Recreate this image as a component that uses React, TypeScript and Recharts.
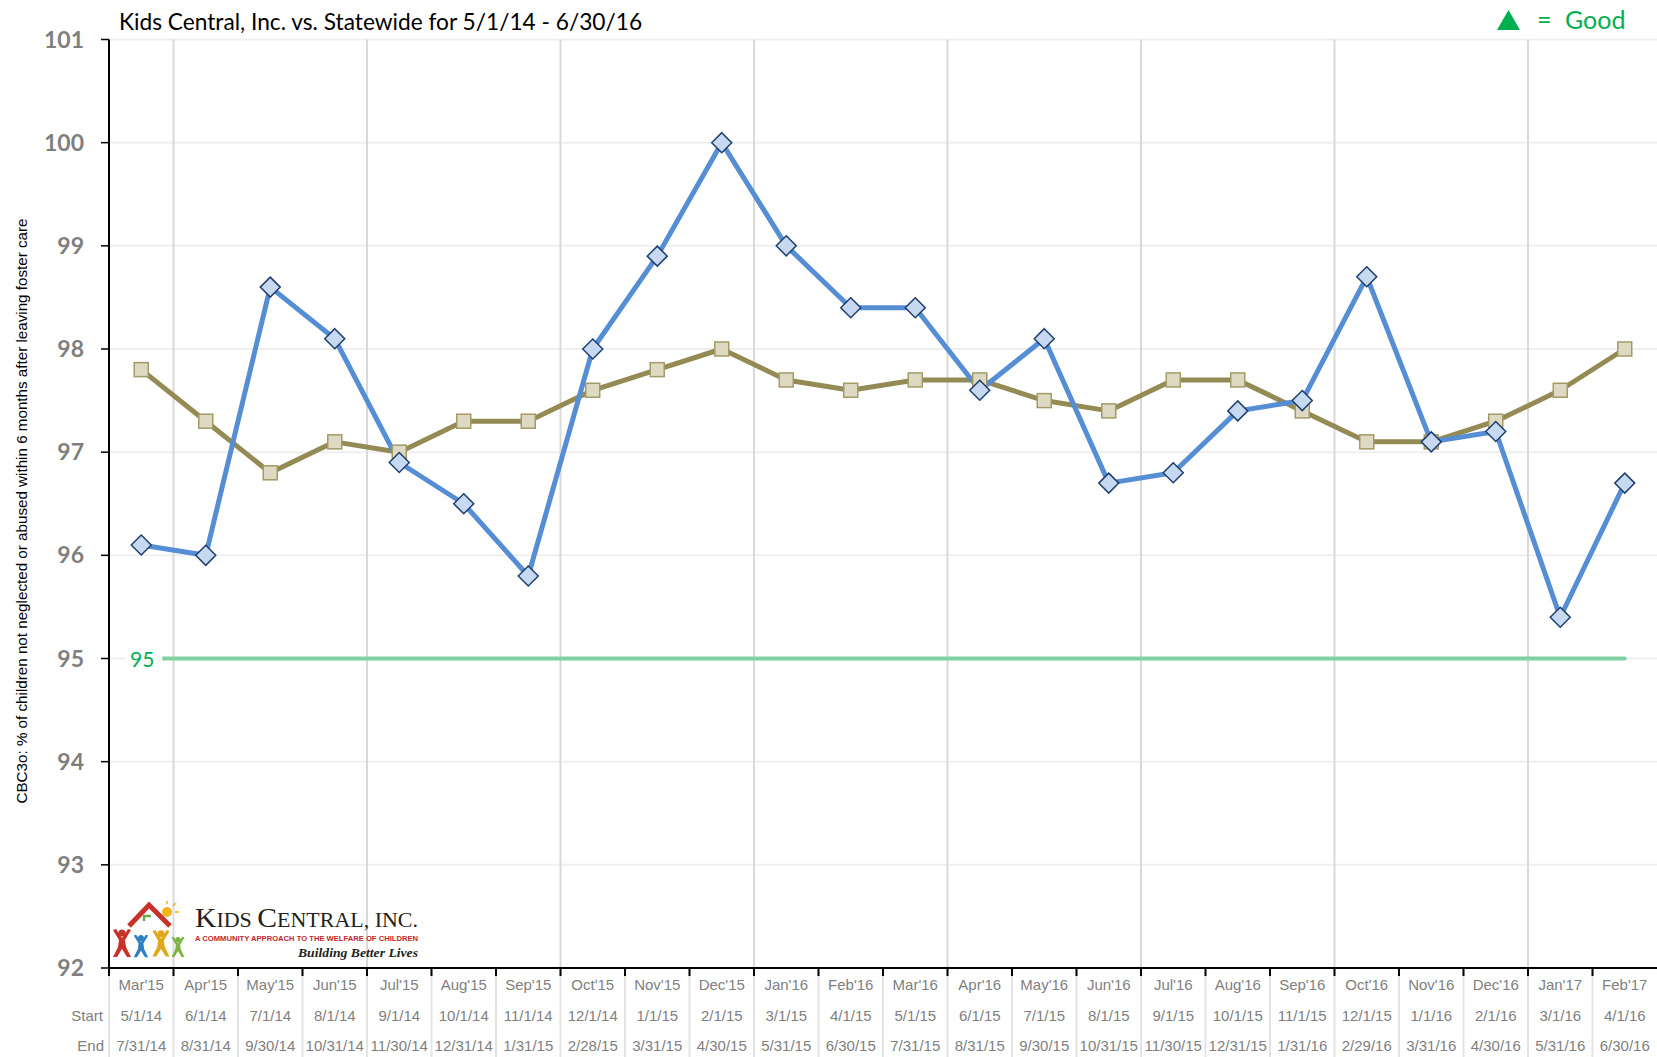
import React from "react";
import { CartesianGrid, Line, LineChart, XAxis, YAxis } from "recharts";

const months = [
  "Mar'15", "Apr'15", "May'15", "Jun'15", "Jul'15", "Aug'15", "Sep'15", "Oct'15",
  "Nov'15", "Dec'15", "Jan'16", "Feb'16", "Mar'16", "Apr'16", "May'16", "Jun'16",
  "Jul'16", "Aug'16", "Sep'16", "Oct'16", "Nov'16", "Dec'16", "Jan'17", "Feb'17",
];
const startDates = [
  "5/1/14", "6/1/14", "7/1/14", "8/1/14", "9/1/14", "10/1/14", "11/1/14", "12/1/14",
  "1/1/15", "2/1/15", "3/1/15", "4/1/15", "5/1/15", "6/1/15", "7/1/15", "8/1/15",
  "9/1/15", "10/1/15", "11/1/15", "12/1/15", "1/1/16", "2/1/16", "3/1/16", "4/1/16",
];
const endDates = [
  "7/31/14", "8/31/14", "9/30/14", "10/31/14", "11/30/14", "12/31/14", "1/31/15", "2/28/15",
  "3/31/15", "4/30/15", "5/31/15", "6/30/15", "7/31/15", "8/31/15", "9/30/15", "10/31/15",
  "11/30/15", "12/31/15", "1/31/16", "2/29/16", "3/31/16", "4/30/16", "5/31/16", "6/30/16",
];
const kidsCentral = [
  96.1, 96.0, 98.6, 98.1, 96.9, 96.5, 95.8, 98.0, 98.9, 100.0, 99.0, 98.4,
  98.4, 97.6, 98.1, 96.7, 96.8, 97.4, 97.5, 98.7, 97.1, 97.2, 95.4, 96.7,
];
const statewide = [
  97.8, 97.3, 96.8, 97.1, 97.0, 97.3, 97.3, 97.6, 97.8, 98.0, 97.7, 97.6,
  97.7, 97.7, 97.5, 97.4, 97.7, 97.7, 97.4, 97.1, 97.1, 97.3, 97.6, 98.0,
];
const goal = 95;
const yTicks = [92, 93, 94, 95, 96, 97, 98, 99, 100, 101];

const data = months.map((month, i) => ({
  month,
  kids: kidsCentral[i],
  state: statewide[i],
  goal,
}));

const CHART_W = 1657;
const CHART_H = 1057;
const PLOT_LEFT = 109;
const PLOT_W = CHART_W - PLOT_LEFT;
const BAND = PLOT_W / months.length;
const GRAY = "#808080";

// darker vertical lines every 3rd period boundary
const gridX = [1, 4, 7, 10, 13, 16, 19, 22].map((k) => PLOT_LEFT + k * BAND);

function MonthTick(props: any) {
  const { x, y, payload } = props;
  const i = payload.index;
  const left = x - BAND / 2;
  const font = { fontFamily: "Liberation Sans, Arial, sans-serif", fontSize: 15, fill: GRAY };
  return (
    <g>
      <line x1={left} y1={y} x2={left} y2={CHART_H} stroke="#e3e3e3" strokeWidth={2} />
      <line x1={left} y1={y - 1} x2={left} y2={y + 6} stroke="#000" strokeWidth={2} />
      <text x={x} y={y + 20} textAnchor="middle" {...font}>{months[i]}</text>
      <text x={x} y={y + 51} textAnchor="middle" {...font}>{startDates[i]}</text>
      <text x={x} y={y + 81} textAnchor="middle" {...font}>{endDates[i]}</text>
      {i === 0 && (
        <>
          <text x={left - 6} y={y + 51} textAnchor="end" {...font}>Start</text>
          <text x={left - 5} y={y + 81} textAnchor="end" {...font}>End</text>
        </>
      )}
    </g>
  );
}

function Diamond(props: any) {
  const { cx, cy, index } = props;
  return (
    <polygon
      key={`d-${index}`}
      points={`${cx},${cy - 10} ${cx + 10},${cy} ${cx},${cy + 10} ${cx - 10},${cy}`}
      fill="#c6d9f1"
      stroke="#1f3f6e"
      strokeWidth={1.5}
    />
  );
}

function Square(props: any) {
  const { cx, cy, index } = props;
  return (
    <rect
      key={`s-${index}`}
      x={cx - 7}
      y={cy - 7}
      width={14}
      height={14}
      fill="#ddd9c3"
      stroke="#a39a66"
      strokeWidth={1.5}
    />
  );
}

function GoalLabel(props: any) {
  const { x, y, index } = props;
  if (index !== 0) return null;
  return (
    <g>
      <rect x={x - 16} y={y - 12} width={37} height={24} fill="#fff" />
      <text
        x={x + 1}
        y={y + 8}
        textAnchor="middle"
        fontFamily="Lato, sans-serif"
        fontSize={21}
        fill="#00b050"
      >
        {goal}
      </text>
    </g>
  );
}

function Person({ cx, top, s, color }: { cx: number; top: number; s: number; color: string }) {
  const p = (dx: number, dy: number) => `${cx + dx * s},${top + dy * s}`;
  const body = [
    p(-9, 2), p(-3, 12), p(-4, 19), p(-9, 29), p(-5, 29), p(0, 21),
    p(5, 29), p(9, 29), p(4, 19), p(3, 12), p(9, 2), p(6, 1), p(0, 10), p(-6, 1),
  ].join(" ");
  return (
    <g fill={color}>
      <circle cx={cx} cy={top + 5 * s} r={3.6 * s} />
      <polygon points={body} />
    </g>
  );
}

function Logo() {
  return (
    <g>
      <polyline points="129,926 149,905 170,926" fill="none" stroke="#c8322b" strokeWidth={5} />
      <polyline points="144,921 144,916 151,916" fill="none" stroke="#6aa84f" strokeWidth={2.5} />
      <circle cx={167} cy={912} r={5} fill="#f2b51c" />
      <g stroke="#f2b51c" strokeWidth={1.6}>
        <line x1={167} y1={904} x2={167} y2={901} />
        <line x1={173} y1={906} x2={176} y2={903} />
        <line x1={175} y1={912} x2={179} y2={912} />
      </g>
      <Person cx={122} top={928} s={1} color="#c8322b" />
      <Person cx={141} top={934} s={0.8} color="#2f7fc1" />
      <Person cx={161} top={929} s={0.95} color="#e2a81b" />
      <Person cx={178} top={936} s={0.72} color="#7cb342" />
      <text x={195} y={927} fontFamily="Liberation Serif, serif" fill="#231f20" textLength={223} lengthAdjust="spacingAndGlyphs">
        <tspan fontSize={27}>K</tspan>
        <tspan fontSize={20}>IDS </tspan>
        <tspan fontSize={27}>C</tspan>
        <tspan fontSize={20}>ENTRAL, INC.</tspan>
      </text>
      <text x={195} y={941} fontFamily="Liberation Sans, sans-serif" fontWeight={700} fontSize={7.5} fill="#c1272d" textLength={223} lengthAdjust="spacingAndGlyphs">
        A COMMUNITY APPROACH TO THE WELFARE OF CHILDREN
      </text>
      <text x={298} y={957} fontFamily="Liberation Serif, serif" fontStyle="italic" fontWeight={700} fontSize={13} fill="#231f20" textLength={120} lengthAdjust="spacingAndGlyphs">
        Building Better Lives
      </text>
    </g>
  );
}

export default function App() {
  return (
    <div style={{ position: "relative", width: CHART_W, height: CHART_H, background: "#fff", overflow: "hidden" }}>
      <style>{"html,body{margin:0;padding:0;overflow:hidden;}"}</style>
      <LineChart width={CHART_W} height={CHART_H} data={data} margin={{ top: 39.5, right: 0, bottom: 0, left: 0 }}>
        <CartesianGrid vertical={false} stroke="#efefef" strokeWidth={2} />
        <CartesianGrid horizontal={false} verticalCoordinatesGenerator={() => gridX} stroke="#d9d9d9" strokeWidth={2} />
        <XAxis
          dataKey="month"
          interval={0}
          height={89}
          padding={{ left: BAND / 2, right: BAND / 2 }}
          axisLine={{ stroke: "#000", strokeWidth: 2 }}
          tickLine={false}
          tickSize={0}
          tick={<MonthTick />}
        />
        <YAxis
          domain={[92, 101]}
          ticks={yTicks}
          interval={0}
          width={PLOT_LEFT}
          axisLine={{ stroke: "#000", strokeWidth: 2 }}
          tickLine={{ stroke: "#000", strokeWidth: 1.5 }}
          tickSize={8}
          tickMargin={17}
          tick={{ fill: "#7f7f7f", fontSize: 23, fontWeight: 700, fontFamily: "Lato, sans-serif" }}
        />
        <Line
          dataKey="goal"
          stroke="#7ed3a1"
          strokeWidth={4}
          strokeLinecap="round"
          dot={false}
          activeDot={false}
          label={<GoalLabel />}
          isAnimationActive={false}
        />
        <Line
          dataKey="state"
          stroke="#948a54"
          strokeWidth={5}
          strokeLinejoin="round"
          dot={<Square />}
          activeDot={false}
          isAnimationActive={false}
        />
        <Line
          dataKey="kids"
          stroke="#558ed5"
          strokeWidth={5}
          strokeLinejoin="round"
          dot={<Diamond />}
          activeDot={false}
          isAnimationActive={false}
        />
      </LineChart>
      <svg width={CHART_W} height={CHART_H} style={{ position: "absolute", left: 0, top: 0, pointerEvents: "none" }}>
        <text x={119} y={30} fontFamily="Lato, sans-serif" fontSize={22.7} fill="#000">
          Kids Central, Inc. vs. Statewide for 5/1/14 - 6/30/16
        </text>
        <polygon points="1508.5,10 1520,30 1497,30" fill="#00b050" />
        <text x={1537} y={29} fontFamily="Lato, sans-serif" fontSize={25} fill="#00b050">=</text>
        <text x={1565} y={29} fontFamily="Lato, sans-serif" fontSize={25} fill="#00b050">Good</text>
        <text
          x={0}
          y={0}
          transform="translate(27 511) rotate(-90)"
          textAnchor="middle"
          fontFamily="Liberation Sans, Arial, sans-serif"
          fontSize={15.2}
          fill="#000"
        >
          CBC3o: % of children not neglected or abused within 6 months after leaving foster care
        </text>
        <Logo />
      </svg>
    </div>
  );
}
